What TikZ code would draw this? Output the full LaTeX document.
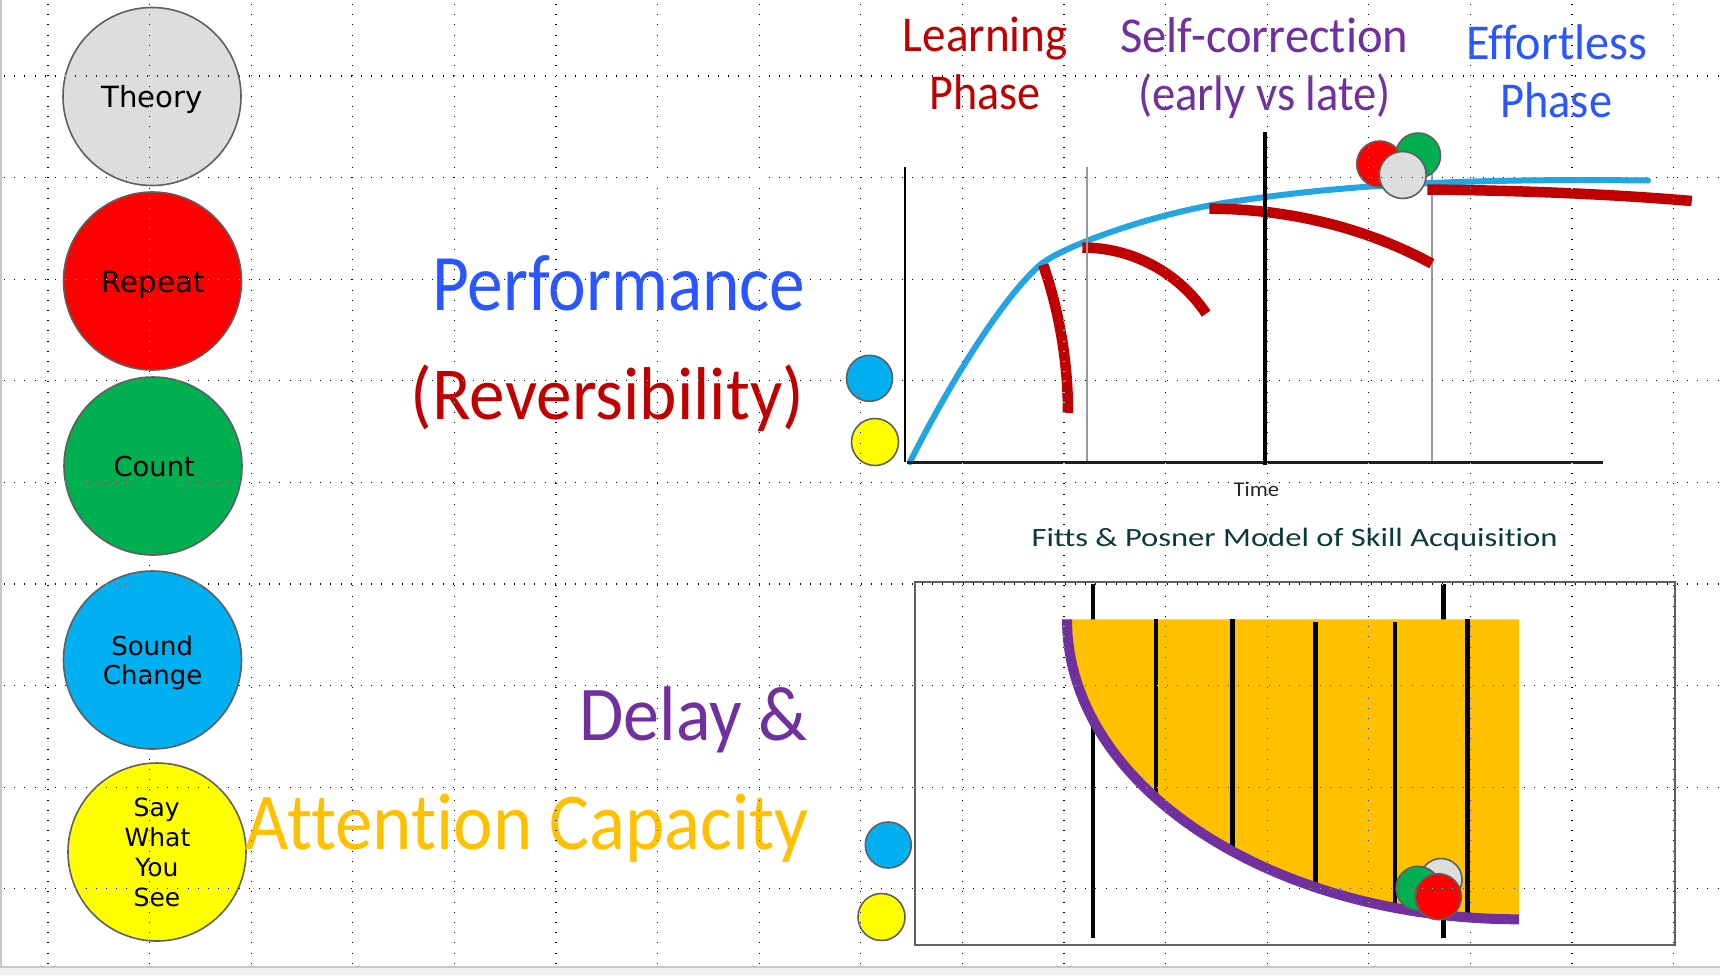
\documentclass[tikz,border=0pt]{standalone}
\usepackage{fontspec}
\setmainfont{Carlito}[Ligatures=NoCommon]
\newfontfamily\dejavu{DejaVu Sans}
\usepackage{graphicx}
\definecolor{pblue}{HTML}{2A56FF}
\definecolor{dred}{HTML}{C00000}
\definecolor{purp}{HTML}{7030A0}
\definecolor{gold}{HTML}{FFC000}
\definecolor{teal}{HTML}{0B3A3A}
\definecolor{cgray}{HTML}{5F5F5F}
\definecolor{lgray}{HTML}{DDDDDD}
\definecolor{cred}{HTML}{FF0000}
\definecolor{cgreen}{HTML}{00B050}
\definecolor{cblue}{HTML}{00B0F0}
\definecolor{cyellow}{HTML}{FFFF00}
\definecolor{lineblue}{HTML}{22A5E0}
\definecolor{axgray}{HTML}{9A9A9A}
\newcommand\fitw[2]{\resizebox{#1pt}{\height}{#2}}
\begin{document}
\begin{tikzpicture}[x=1pt,y=-1pt,
  txt/.style={inner sep=0pt, outer sep=0pt, anchor=base},
  bigc/.style={circle, draw=cgray, line width=1.6pt, minimum size=178pt, inner sep=0pt},
  smc/.style={circle, draw=cgray, line width=1.6pt, inner sep=0pt},
  ctext/.style={txt, font=\dejavu, text=black},
  redc/.style={draw=dred, line width=10.5pt},
  barl/.style={draw=black, line width=4.5pt},
  griddot/.style={white, line width=1.05pt, dash pattern=on 1.05pt off 9.15pt}]
\useasboundingbox (0,0) rectangle (1720,975);
\fill[white] (0,0) rectangle (1720,975);
% window border
\fill[black!6] (0,967) rectangle (1720,975);
\draw[black!22, line width=1.2pt] (0,967) -- (1720,967);
\draw[black!22, line width=1.5pt] (0.75,0) -- (0.75,967);

% ---- left circles
\node[bigc, fill=lgray] (theory) at (152,96.5) {};
\node[bigc, fill=cred] (repeat) at (152.5,281) {};
\node[bigc, fill=cgreen] (count) at (153,466) {};
\node[bigc, fill=cblue] (sound) at (152.5,660) {};
\node[bigc, fill=cyellow] (say) at (157,852) {};
\node[ctext, font=\dejavu\fontsize{29.2}{30}\selectfont] (ttheory) at (152,107.2) {Theory};
\node[ctext, font=\dejavu\fontsize{29.2}{30}\selectfont] (trepeat) at (153.2,292) {Repeat};
\node[ctext, font=\dejavu\fontsize{27.4}{30}\selectfont] (tcount) at (154.2,476) {Count};
\node[ctext, font=\dejavu\fontsize{26}{30}\selectfont] (tsound) at (152.2,655) {Sound};
\node[ctext, font=\dejavu\fontsize{26}{30}\selectfont] (tchange) at (152.7,684) {Change};
\node[ctext, font=\dejavu\fontsize{25}{30}\selectfont] (tsay) at (156.7,816.7) {Say};
\node[ctext, font=\dejavu\fontsize{25}{30}\selectfont] (twhat) at (157.5,846.7) {What};
\node[ctext, font=\dejavu\fontsize{25}{30}\selectfont] (tyou) at (157,876.7) {You};
\node[ctext, font=\dejavu\fontsize{25}{30}\selectfont] (tsee) at (157,906) {See};

% ---- big labels
\node[txt, text=pblue] (perf) at (618.9,310.7) {\fitw{373}{\fontsize{80.2}{80}\selectfont Performance}};
\node[txt, text=dred] (rev) at (607.4,419) {\fitw{393}{\fontsize{74.8}{75}\selectfont (Reversibility)}};
\node[txt, text=purp] (delay) at (693.3,740.7) {\fitw{228}{\fontsize{77.5}{78}\selectfont Delay \&}};
\node[txt, text=gold] (attn) at (527.1,849.3) {\fitw{563}{\fontsize{80.7}{81}\selectfont Attention Capacity}};

% ---- phase labels
\node[txt, text=dred] (learn) at (985.3,51.7) {\fitw{165}{\fontsize{50.2}{50}\selectfont Learning}};
\node[txt, text=dred] (phase1) at (985,109) {\fitw{111}{\fontsize{50.2}{50}\selectfont Phase}};
\node[txt, text=purp] (selfc) at (1264.3,52.3) {\fitw{288}{\fontsize{50.2}{50}\selectfont Self-correction}};
\node[txt, text=purp] (early) at (1264.5,110) {\fitw{253}{\fontsize{50.2}{50}\selectfont (early vs late)}};
\node[txt, text=pblue] (effort) at (1556.5,59.3) {\fitw{181}{\fontsize{50.2}{50}\selectfont Effortless}};
\node[txt, text=pblue] (phase2) at (1556.3,117.3) {\fitw{111.6}{\fontsize{50.2}{50}\selectfont Phase}};
\node[txt, text=black!85] (time) at (1256.4,496.7) {\fitw{45.5}{\fontsize{21}{21}\selectfont Time}};
\node[txt, text=teal] (fitts) at (1294.6,546) {\fitw{526}{\fontsize{26.4}{26}\selectfont Fitts \& Posner Model of Skill Acquisition}};

% ---- top chart
\draw[black, line width=2pt] (905,166.7) -- (905,462.3);
\draw[axgray, line width=2pt] (1432,166.7) -- (1432,461);
\draw[lineblue, line width=6pt, line cap=round]
  (910,462) .. controls (945,392) and (1000,300) .. (1040,265)
  .. controls (1060,247.5) and (1150,214) .. (1230,202)
  .. controls (1330,187) and (1440,178) .. (1648,180.5);
\draw[redc] (1043.2,264.9) arc[start angle=-19, end angle=0, radius=455];
\draw[redc] (1082.3,247.5) arc[start angle=-90, end angle=-33.8, radius=149];
\draw[redc] (1209.3,208.7) arc[start angle=-90, end angle=-56.2, x radius=400, y radius=325];
\draw[redc] (1427.3,189.5) .. controls (1520,190.5) and (1610,194) .. (1691.7,201);
\draw[axgray, line width=2pt] (1086.7,166.7) -- (1086.7,461);
\draw[black!88, line width=3pt] (907,462.3) -- (1603.3,462.3);
\draw[black, line width=4.3pt] (1265.3,131.7) -- (1265.3,465);
\node[smc, fill=cgreen, minimum size=45pt] (tgreen) at (1418,155.5) {};
\node[smc, fill=cred, minimum size=46pt] (tred) at (1379.7,164) {};
\node[smc, fill=lgray, minimum size=47pt] (tgray) at (1402.7,175) {};
\node[smc, fill=cblue, minimum size=46pt] (tblue) at (869.5,378.3) {};
\node[smc, fill=cyellow, minimum size=47pt] (tyellow) at (875,442) {};

% ---- bottom chart
\draw[cgray, line width=2pt] (914.6,582) rectangle (1674.5,945);
\draw[barl] (1093.1,584) -- (1093.1,937.7);
\draw[barl] (1443.3,584) -- (1443.3,937.7);
\fill[gold] (1519,619.3) -- (1067,619.3) arc[start angle=180, end angle=90, x radius=452, y radius=300] -- cycle;
\draw[barl] (1156,619.3) -- (1156,797.8);
\draw[barl] (1232.3,619.3) -- (1232.3,851);
\draw[barl] (1315.4,621.7) -- (1315.4,887);
\draw[barl] (1395,621.7) -- (1395,907.6);
\draw[barl] (1467.4,619.3) -- (1467.4,917);
\draw[purp, line width=10pt] (1067,619.3) arc[start angle=180, end angle=90, x radius=452, y radius=300];
\node[smc, fill=lgray, minimum size=42pt] (bgray) at (1441,879.5) {};
\node[smc, fill=cgreen, minimum size=44pt] (bgreen) at (1418,888.3) {};
\node[smc, fill=cred, minimum size=46pt] (bred) at (1438.3,896.7) {};
\node[smc, fill=cblue, minimum size=46pt] (bblue) at (888.3,845) {};
\node[smc, fill=cyellow, minimum size=47pt] (byellow) at (881.5,917) {};

% ---- dotted guide grid (inverted over shapes)
\begin{scope}[blend mode=difference]
\foreach \k in {0,...,16} {
  \draw[griddot] ({48+101.6*\k},4) -- ({48+101.6*\k},966);
}
\foreach \k in {0,...,8} {
  \draw[griddot] (4,{76+101.6*\k}) -- (1720,{76+101.6*\k});
}
\end{scope}
\end{tikzpicture}
\end{document}
